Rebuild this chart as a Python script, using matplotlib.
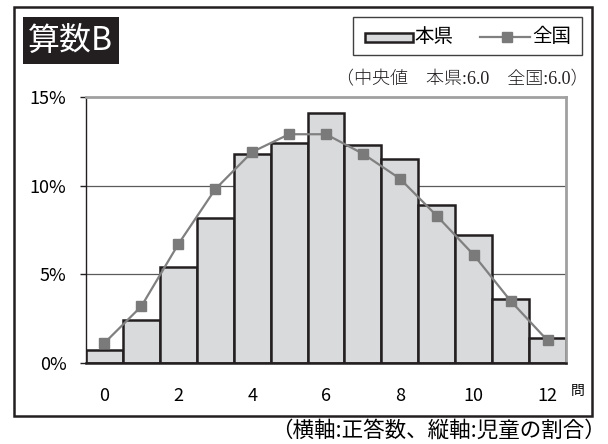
import matplotlib
matplotlib.use("Agg")
import matplotlib.pyplot as plt
from matplotlib.patches import Rectangle
from matplotlib.lines import Line2D

plt.rcParams['font.family'] = ['Liberation Sans Narrow', 'Noto Sans CJK JP', 'DejaVu Sans']

# ---- data ----
scores = [0, 1, 2, 3, 4, 5, 6, 7, 8, 9, 10, 11, 12]
pref_pct = [0.72, 2.4, 5.4, 8.2, 11.8, 12.4, 14.1, 12.3, 11.5, 8.9, 7.2, 3.6, 1.4]
nat_pct = [1.13, 3.2, 6.7, 9.8, 11.9, 12.9, 12.9, 11.8, 10.4, 8.3, 6.1, 3.5, 1.27]
xtick_vals = [0, 2, 4, 6, 8, 10, 12]
ytick_vals = [0, 5, 10, 15]
ytick_labels = ['0%', '5%', '10%', '15%']
title_text = '算数B'
series_names = ['本県', '全国']
median_text = '（中央値　本県:6.0　全国:6.0）'
caption_text = '（横軸:正答数、縦軸:児童の割合）'
unit_text = '問'

W, H = 608, 444
fig = plt.figure(figsize=(W / 100, H / 100), dpi=100)

def fx(px):
    return px / W

def fy(py):
    return 1 - py / H

bar_face = '#d9dadc'
bar_edge = '#231f20'
line_col = '#808080'

ax = fig.add_axes([fx(86), fy(363), fx(566) - fx(86), fy(97) - fy(363)])
ax.bar(scores, pref_pct, width=1.0, color=bar_face, edgecolor=bar_edge,
       linewidth=1.8, zorder=2)
ax.plot(scores, nat_pct, color=line_col, linewidth=1.6, marker='s',
        markersize=7, markerfacecolor='#7a7a7a', markeredgecolor='#7a7a7a', zorder=3)
for v in [5, 10]:
    ax.axhline(v, color='#5a5a5a', linewidth=0.9, zorder=1)

ax.set_xlim(-0.5, 12.5)
ax.set_ylim(0, 15)
ax.set_xticks(xtick_vals)
ax.set_xticklabels([str(v) for v in xtick_vals], fontsize=13)
ax.set_yticks(ytick_vals)
ax.set_yticklabels(ytick_labels, fontsize=13)
ax.tick_params(axis='x', length=0, pad=17)
ax.tick_params(axis='y', length=4, width=1, direction='out', pad=10, color='#231f20')
ax.spines['top'].set_color('#a0a0a0')
ax.spines['right'].set_color('#a0a0a0')
ax.spines['top'].set_linewidth(2)
ax.spines['right'].set_linewidth(2)
ax.spines['left'].set_color('#231f20')
ax.spines['left'].set_linewidth(1)
ax.spines['bottom'].set_color(bar_edge)
ax.spines['bottom'].set_linewidth(1.8)

# outer frame
fig.patches.append(Rectangle((fx(14), fy(416)), fx(592) - fx(14), fy(7) - fy(416),
                             transform=fig.transFigure, fill=False,
                             edgecolor='#231f20', linewidth=1.8))
# title box
fig.patches.append(Rectangle((fx(23), fy(64)), fx(119) - fx(23), fy(17) - fy(64),
                             transform=fig.transFigure, facecolor='#231f20',
                             edgecolor='none'))
fig.text(fx(70), fy(41), title_text, color='white', fontsize=23,
         ha='center', va='center', family=['Noto Sans CJK JP'])

# legend box
fig.patches.append(Rectangle((fx(353), fy(55)), fx(582) - fx(353), fy(17) - fy(55),
                             transform=fig.transFigure, fill=False,
                             edgecolor='#404040', linewidth=1.0))
fig.patches.append(Rectangle((fx(365), fy(42)), fx(413) - fx(365), fy(33) - fy(42),
                             transform=fig.transFigure, facecolor=bar_face,
                             edgecolor=bar_edge, linewidth=1.8))
fig.text(fx(414), fy(37), series_names[0], fontsize=14, ha='left', va='center',
         family=['Noto Sans CJK JP'])
fig.lines.append(Line2D([fx(480), fx(530)], [fy(37), fy(37)], transform=fig.transFigure,
                        color=line_col, linewidth=1.6))
fig.lines.append(Line2D([fx(507)], [fy(37)], transform=fig.transFigure,
                        color=line_col, marker='s', markersize=7,
                        markerfacecolor='#7a7a7a', markeredgecolor='#7a7a7a'))
fig.text(fx(532), fy(37), series_names[1], fontsize=14, ha='left', va='center',
         family=['Noto Sans CJK JP'])

# median text
fig.text(fx(589), fy(80), median_text, fontsize=13, ha='right', va='center',
         color='#231f20', family=['Liberation Serif', 'Noto Sans CJK JP'],
         fontweight='light')

# unit
fig.text(fx(571), fy(391), unit_text, fontsize=10, ha='left', va='center',
         family=['Noto Sans CJK JP'])

# caption
fig.text(fx(606), fy(431), caption_text, fontsize=15.5, ha='right', va='center',
         family=['Noto Sans CJK JP'])

fig.savefig('out.png', dpi=100)
